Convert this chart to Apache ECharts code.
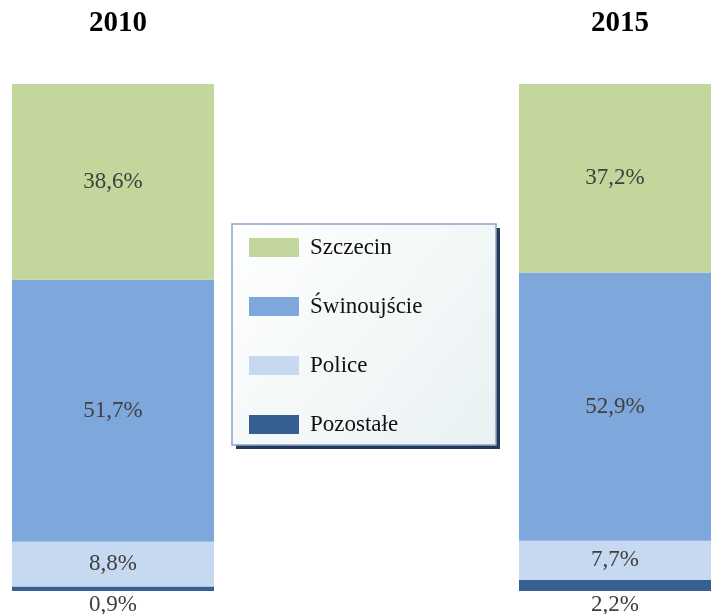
<!DOCTYPE html>
<html>
<head>
<meta charset="utf-8">
<script src="https://cdn.jsdelivr.net/npm/echarts@6/dist/echarts.min.js"></script>
<style>
  html, body { margin: 0; padding: 0; background: #fff; }
  #chart { width: 711px; height: 614px; }
</style>
</head>
<body>
<div id="chart"></div>
<script>
// Share of each town, per year (percent)
const years = ['2010', '2015'];
const szczecin = [38.6, 37.2];
const swinoujscie = [51.7, 52.9];
const police = [8.8, 7.7];
const pozostale = [0.9, 2.2];

const seriesNames = ['Szczecin', 'Świnoujście', 'Police', 'Pozostałe'];
const seriesColors = ['#c3d69b', '#7ea8dc', '#c6d9f0', '#366092'];
// bottom-to-top stacking order
const stackOrder = [
  { name: seriesNames[3], values: pozostale, color: seriesColors[3], outside: true },
  { name: seriesNames[2], values: police, color: seriesColors[2] },
  { name: seriesNames[1], values: swinoujscie, color: seriesColors[1] },
  { name: seriesNames[0], values: szczecin, color: seriesColors[0] }
];

const serif = '"Liberation Serif", "Times New Roman", serif';
const fmt = p => p.value.toFixed(1).replace('.', ',') + '%';

// one grid per year, each holding a single full-width stacked bar
const gridLefts = [12, 519];

const grids = gridLefts.map(l => ({ left: l, width: 202, top: 84, bottom: 23 }));
const xAxes = years.map((y, i) => ({
  type: 'category',
  gridIndex: i,
  data: [y],
  position: 'top',
  axisLine: { show: false },
  axisTick: { show: false },
  axisLabel: {
    margin: 46,
    padding: [0, 0, 0, 10],
    fontFamily: serif,
    fontSize: 29,
    fontWeight: 'bold',
    color: '#000'
  }
}));
const yAxes = years.map((y, i) => ({ type: 'value', gridIndex: i, min: 0, max: 100, show: false }));

const series = [];
years.forEach((y, i) => {
  stackOrder.forEach(s => {
    series.push({
      name: s.name,
      type: 'bar',
      xAxisIndex: i,
      yAxisIndex: i,
      stack: 'share' + i,
      barWidth: '100%',
      data: [s.values[i]],
      itemStyle: { color: s.color },
      label: {
        show: true,
        position: s.outside ? 'bottom' : 'inside',
        distance: 2,
        formatter: fmt,
        fontFamily: serif,
        fontSize: 23,
        color: '#404040'
      },
      emphasis: { disabled: true }
    });
  });
});

// legend frame: drop shadow plus gradient-filled box
const legendBox = { x: 232, y: 224, width: 264, height: 221 };

const chart = echarts.init(document.getElementById('chart'));
chart.setOption({
  animation: false,
  backgroundColor: '#ffffff',
  grid: grids,
  xAxis: xAxes,
  yAxis: yAxes,
  graphic: [
    {
      type: 'rect',
      z: 1,
      shape: { x: legendBox.x + 4, y: legendBox.y + 4, width: legendBox.width, height: legendBox.height },
      style: { fill: '#243a5a' },
      silent: true
    },
    {
      type: 'rect',
      z: 2,
      shape: { x: legendBox.x, y: legendBox.y, width: legendBox.width, height: legendBox.height },
      style: {
        fill: new echarts.graphic.LinearGradient(0, 0, 1, 1, [
          { offset: 0, color: '#ffffff' },
          { offset: 1, color: '#e9f1f3' }
        ]),
        stroke: '#8aa4c8',
        lineWidth: 1.5
      },
      silent: true
    }
  ],
  legend: {
    z: 10,
    orient: 'vertical',
    left: 232,
    top: 224,
    data: seriesNames,
    itemWidth: 50,
    itemHeight: 19,
    itemGap: 36,
    padding: [12, 74, 10, 17],
    icon: 'rect',
    selectedMode: false,
    textStyle: { fontFamily: serif, fontSize: 23, color: '#111', padding: [0, 0, 0, 6] }
  },
  series: series
});
</script>
</body>
</html>
